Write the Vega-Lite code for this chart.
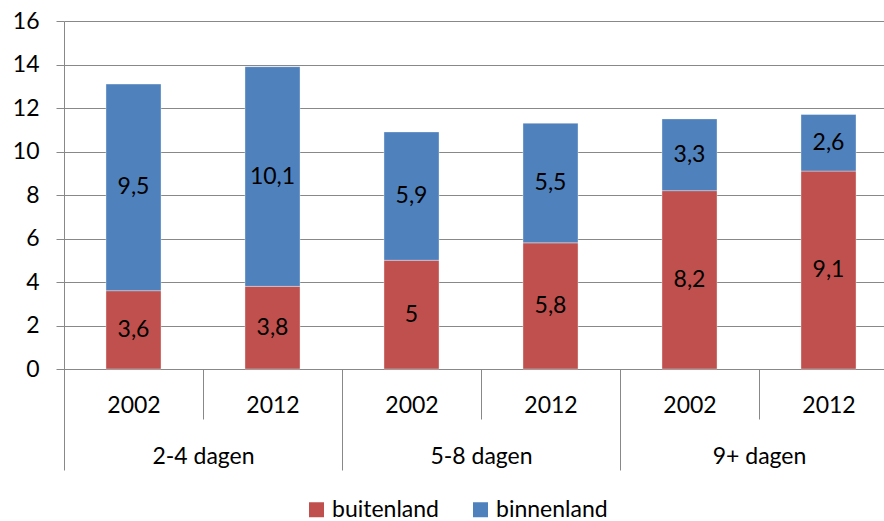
{
  "$schema": "https://vega.github.io/schema/vega-lite/v6.json",
  "width": 820,
  "height": 348,
  "autosize": {"type": "none"},
  "padding": {"left": 64, "top": 21, "right": 0, "bottom": 152},
  "background": "white",
  "config": {
    "font": "Lato",
    "view": {"stroke": null},
    "locale": {"number": {"decimal": ",", "thousands": ".", "grouping": [3], "currency": ["€", ""]}}
  },
  "data": {
    "values": [
      {"group": "2-4 dagen", "year": "2002", "bar": "2-4 dagen 2002", "land": "buitenland", "value": 3.6},
      {"group": "2-4 dagen", "year": "2002", "bar": "2-4 dagen 2002", "land": "binnenland", "value": 9.5},
      {"group": "2-4 dagen", "year": "2012", "bar": "2-4 dagen 2012", "land": "buitenland", "value": 3.8},
      {"group": "2-4 dagen", "year": "2012", "bar": "2-4 dagen 2012", "land": "binnenland", "value": 10.1},
      {"group": "5-8 dagen", "year": "2002", "bar": "5-8 dagen 2002", "land": "buitenland", "value": 5.0},
      {"group": "5-8 dagen", "year": "2002", "bar": "5-8 dagen 2002", "land": "binnenland", "value": 5.9},
      {"group": "5-8 dagen", "year": "2012", "bar": "5-8 dagen 2012", "land": "buitenland", "value": 5.8},
      {"group": "5-8 dagen", "year": "2012", "bar": "5-8 dagen 2012", "land": "binnenland", "value": 5.5},
      {"group": "9+ dagen", "year": "2002", "bar": "9+ dagen 2002", "land": "buitenland", "value": 8.2},
      {"group": "9+ dagen", "year": "2002", "bar": "9+ dagen 2002", "land": "binnenland", "value": 3.3},
      {"group": "9+ dagen", "year": "2012", "bar": "9+ dagen 2012", "land": "buitenland", "value": 9.1},
      {"group": "9+ dagen", "year": "2012", "bar": "9+ dagen 2012", "land": "binnenland", "value": 2.6}
    ]
  },
  "layer": [
    {
      "layer": [
        {
          "mark": {"type": "bar", "stroke": "#ffffff", "strokeWidth": 0.6, "strokeOpacity": 0.6},
          "encoding": {
            "x": {
              "field": "bar", "type": "nominal", "sort": null,
              "scale": {"range": [0, 834], "paddingInner": 0.604, "paddingOuter": 0.302},
              "axis": null
            },
            "y": {
              "field": "value", "type": "quantitative", "stack": "zero",
              "scale": {"domain": [0, 16], "nice": false},
              "axis": {
                "title": null, "values": [0, 2, 4, 6, 8, 10, 12, 14, 16],
                "grid": true, "gridColor": "#888888", "domainColor": "#888888",
                "tickColor": "#888888", "tickSize": 8, "labelPadding": 17,
                "labelFontSize": 23, "labelColor": "#000000"
              }
            },
            "color": {
              "field": "land", "type": "nominal",
              "scale": {"domain": ["buitenland", "binnenland"], "range": ["#C0504D", "#4F81BD"]},
              "legend": {
                "orient": "none", "direction": "horizontal", "legendX": 241, "legendY": 477,
                "title": null, "symbolType": "square", "symbolSize": 225, "symbolStrokeWidth": 0,
                "labelFontSize": 23, "labelColor": "#000000", "labelOffset": 4, "columnPadding": 30
              }
            },
            "order": {"field": "land", "sort": "descending"}
          }
        },
        {
          "transform": [
            {"stack": "value", "groupby": ["bar"], "sort": [{"field": "land", "order": "descending"}], "as": ["v0", "v1"]},
            {"calculate": "(datum.v0 + datum.v1) / 2", "as": "mid"}
          ],
          "mark": {"type": "text", "fontSize": 23, "color": "#000000", "baseline": "middle"},
          "encoding": {
            "x": {"field": "bar", "type": "nominal", "sort": null},
            "y": {"field": "mid", "type": "quantitative"},
            "text": {"field": "value", "type": "quantitative", "format": ".1~f"}
          }
        }
      ]
    },
    {
      "mark": {"type": "point", "opacity": 0},
      "encoding": {
        "x": {
          "field": "bar", "type": "nominal", "sort": null,
          "scale": {"range": [0, 834], "paddingInner": 0, "paddingOuter": 0},
          "axis": {
            "orient": "bottom", "title": null, "labelAngle": 0,
            "labelExpr": "slice(datum.label, -4)",
            "tickBand": "extent", "tickSize": 50, "tickColor": "#888888",
            "domainColor": "#888888", "labelPadding": -7, "labelBaseline": "alphabetic",
            "labelFontSize": 23, "labelColor": "#000000", "grid": false
          }
        }
      }
    },
    {
      "mark": {"type": "point", "opacity": 0},
      "encoding": {
        "x": {
          "field": "group", "type": "nominal", "sort": null,
          "scale": {"range": [0, 834], "paddingInner": 0, "paddingOuter": 0},
          "axis": {
            "orient": "bottom", "title": null, "labelAngle": 0, "domain": false,
            "tickBand": "extent", "tickSize": 101, "tickColor": "#888888",
            "labelPadding": -7, "labelBaseline": "alphabetic",
            "labelFontSize": 23, "labelColor": "#000000", "grid": false
          }
        }
      }
    }
  ],
  "resolve": {"scale": {"x": "independent"}, "axis": {"x": "independent"}}
}
